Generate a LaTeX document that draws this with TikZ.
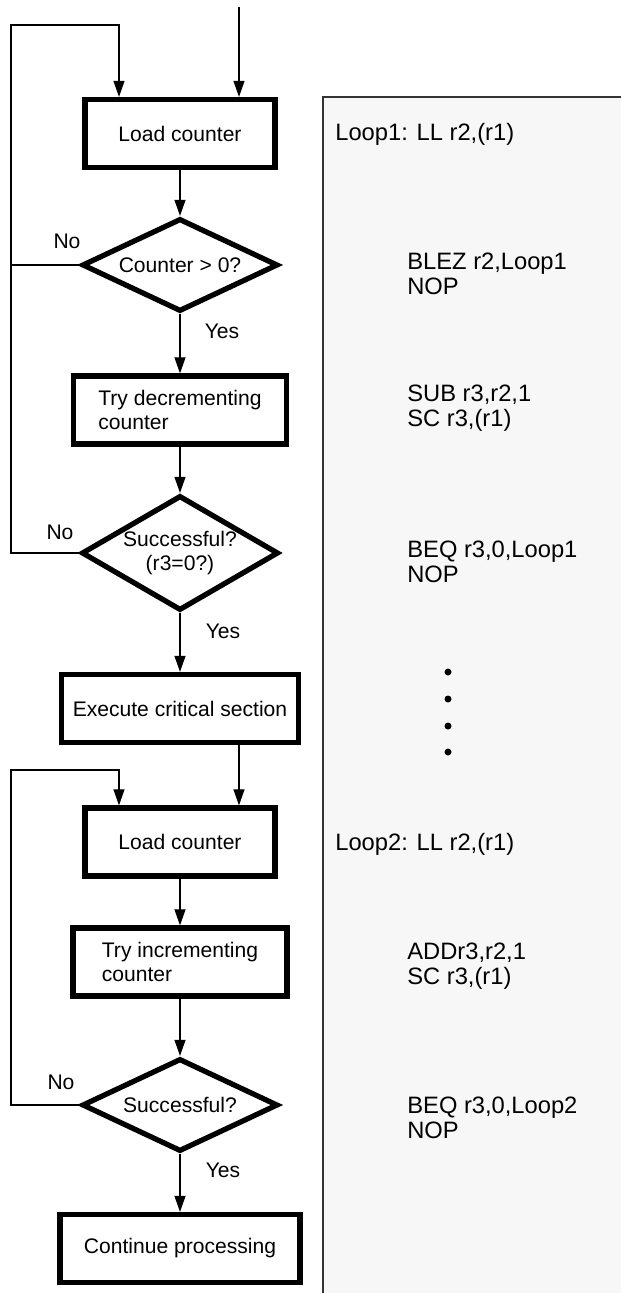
\documentclass[tikz,border=0pt]{standalone}
\usepackage{fontspec}
\setmainfont{Liberation Sans}
\usetikzlibrary{
  arrows.meta,
  shapes.geometric,
  positioning
}
\definecolor{llPanel}{HTML}{F7F7F7}
\definecolor{llEdge}{HTML}{333333}
\tikzset{
  stepbox/.style={
    draw, line width=3pt, fill=white, minimum height=1.36cm,
    font=\fontsize{12}{13.7}\selectfont, align=center, inner sep=2pt
  },
  decision/.style={
    draw, diamond, line width=3pt, fill=white, inner sep=0pt,
    font=\fontsize{12}{13.7}\selectfont, align=center,
    aspect=2.1, minimum width=3.92cm, minimum height=1.86cm
  },
  flow/.style={-{Triangle[length=0.32cm, width=0.22cm]}, line width=0.6pt},
  loopline/.style={line width=0.6pt},
  tag/.style={font=\fontsize{12}{13.7}\selectfont, inner sep=0pt},
  code/.style={font=\fontsize{13.5}{14.2}\selectfont, align=left, anchor=west, inner sep=0pt},
  dotmark/.style={circle, fill=black, inner sep=0pt, minimum size=0.14cm}
}
\begin{document}
\begin{tikzpicture}[x=0.02cm, y=-0.02cm]
  \useasboundingbox (0,0) rectangle (621,1293);
  % listing panel
  \fill[llPanel] (323,97) rectangle (621,1293);
  \draw[llEdge, line width=0.6pt] (323,1293) -- (323,97) -- (621,97);

  % flow chart
  \node[stepbox, minimum width=3.8cm] (load1) at (180,133.5) {Load counter};
  \node[decision] (dia1) at (180,265) {Counter > 0?};
  \node[stepbox, minimum width=4.26cm, align=left] (trydec) at (180,410) {Try decrementing\\counter};
  \node[decision, aspect=1.7, minimum width=3.94cm, minimum height=2.3cm] (dia2) at (180,553) {Successful?\\(r3=0?)};
  \node[stepbox, minimum width=4.74cm] (crit) at (180,708.5) {Execute critical section};
  \node[stepbox, minimum width=3.8cm] (load2) at (180,842) {Load counter};
  \node[stepbox, minimum width=4.28cm, align=left] (tryinc) at (180,962) {Try incrementing\\counter};
  \node[decision] (dia3) at (180,1105) {Successful?};
  \node[stepbox, minimum width=4.8cm] (cont) at (180,1248.5) {Continue processing};

  \coordinate (entry) at (239,7);
  \coordinate (ret1) at (11,25);
  \coordinate (in1) at (119,25);
  \coordinate (ret2) at (11,770);
  \coordinate (in2) at (119,770);

  \foreach \a/\b in {load1/dia1, dia1/trydec, trydec/dia2, dia2/crit,
                     load2/tryinc, tryinc/dia3, dia3/cont}
    {\draw[flow] (\a) -- (\b);}
  \draw[flow] (entry) -- (entry |- load1.north);
  \draw[flow] (entry |- crit.south) -- (entry |- load2.north);
  \draw[flow] (dia2.west) -- (ret1 |- dia2.west) -- (ret1) -- (in1) -- (in1 |- load1.north);
  \draw[loopline] (dia1.west) -- (ret1 |- dia1.west);
  \draw[flow] (dia3.west) -- (ret2 |- dia3.west) -- (ret2) -- (in2) -- (in2 |- load2.north);

  \node[tag] (no1) at (67,241) {No};
  \node[tag] (no2) at (60,532) {No};
  \node[tag] (no3) at (61,1082) {No};
  \node[tag] (yes1) at (222,331) {Yes};
  \node[tag] (yes2) at (223,631) {Yes};
  \node[tag] (yes3) at (223,1170) {Yes};

  % code listing
  \node[code] (lp1) at (335,134) {Loop1: LL r2,(r1)};
  \node[code] (blez) at (407,274) {BLEZ r2,Loop1\\NOP};
  \node[code] (sub) at (407,408) {SUB r3,r2,1\\SC r3,(r1)};
  \node[code] (beq1) at (407,562) {BEQ r3,0,Loop1\\NOP};
  \foreach \y in {672,699,726,752}
    {\node[dotmark] (dot\y) at (448,\y) {};}
  \node[code] (lp2) at (335,844) {Loop2: LL r2,(r1)};
  \node[code] (add) at (407,966) {ADDr3,r2,1\\SC r3,(r1)};
  \node[code] (beq2) at (407,1118) {BEQ r3,0,Loop2\\NOP};
\end{tikzpicture}
\end{document}
